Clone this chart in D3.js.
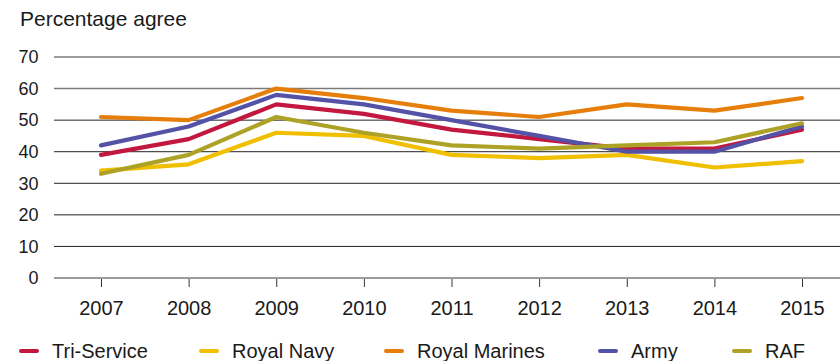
<!DOCTYPE html>
<html>
<head>
<meta charset="utf-8">
<script src="https://cdn.jsdelivr.net/npm/d3@7/dist/d3.min.js"></script>
<style>
  html, body { margin: 0; padding: 0; background: #fff; }
  svg { display: block; }
  text { font-family: "Liberation Sans", Arial, Helvetica, sans-serif; fill: #1a1a1a; }
</style>
</head>
<body>
<svg id="chart" width="840" height="361"></svg>
<script>
// Survey years and y-axis ticks
const years = ["2007", "2008", "2009", "2010", "2011", "2012", "2013", "2014", "2015"];
const yTicks = [0, 10, 20, 30, 40, 50, 60, 70];

// Percentage agreeing, by service
const triService    = [39, 44, 55, 52, 47, 44, 41, 41, 47];
const royalNavy     = [34, 36, 46, 45, 39, 38, 39, 35, 37];
const royalMarines  = [51, 50, 60, 57, 53, 51, 55, 53, 57];
const army          = [42, 48, 58, 55, 50, 45, 40, 40, 48];
const raf           = [33, 39, 51, 46, 42, 41, 42, 43, 49];

const seriesNames = ["Tri-Service", "Royal Navy", "Royal Marines", "Army", "RAF"];
const seriesColors = ["#c2183f", "#f0bf00", "#e67e0c", "#5452a6", "#ada226"];
const seriesValues = [triService, royalNavy, royalMarines, army, raf];

const svg = d3.select("#chart");

const plotLeft = 54, plotRight = 840;
const x = d3.scalePoint().domain(years).range([101, 802]);
const y = d3.scaleLinear().domain([0, 70]).range([278, 57]);

// Title
svg.append("text")
  .attr("x", 20).attr("y", 26)
  .attr("font-size", 21)
  .text("Percentage agree");

// Horizontal gridlines
svg.append("g").selectAll("line")
  .data(yTicks)
  .join("line")
  .attr("x1", plotLeft).attr("x2", plotRight)
  .attr("y1", d => y(d)).attr("y2", d => y(d))
  .attr("stroke", d => (d === 0 || d >= 60) ? "#7a7a7a" : "#222")
  .attr("stroke-width", d => (d === 0 || d >= 60) ? 1.6 : 1);

// Y-axis labels
svg.append("g").selectAll("text")
  .data(yTicks)
  .join("text")
  .attr("x", 38.5)
  .attr("y", d => y(d))
  .attr("dy", "0.35em")
  .attr("text-anchor", "end")
  .attr("font-size", 18)
  .text(d => d);

// X axis ticks and labels
const xAxis = d3.axisBottom(x).tickSize(8).tickPadding(14);
const gx = svg.append("g")
  .attr("transform", `translate(0,${y(0) + 1})`)
  .call(xAxis);
gx.select(".domain").remove();
gx.selectAll(".tick line").attr("stroke", "#333");
gx.selectAll(".tick text")
  .attr("font-size", 20)
  .attr("fill", "#1a1a1a")
  .attr("font-family", "Liberation Sans, Arial, sans-serif");

// Series lines
const line = d3.line()
  .x((d, i) => x(years[i]))
  .y(d => y(d));

svg.append("g").selectAll("path")
  .data(seriesValues)
  .join("path")
  .attr("d", d => line(d))
  .attr("fill", "none")
  .attr("stroke", (d, i) => seriesColors[i])
  .attr("stroke-width", 4.2)
  .attr("stroke-linejoin", "round")
  .attr("stroke-linecap", "round");

// Legend
const legendX = [20, 200, 385, 599, 733];
const legend = svg.append("g").selectAll("g")
  .data(seriesNames)
  .join("g")
  .attr("transform", (d, i) => `translate(${legendX[i]},351)`);

legend.append("line")
  .attr("x1", 1).attr("x2", 17)
  .attr("y1", 0).attr("y2", 0)
  .attr("stroke", (d, i) => seriesColors[i])
  .attr("stroke-width", 4)
  .attr("stroke-linecap", "round");

legend.append("text")
  .attr("x", 32).attr("y", 7)
  .attr("font-size", 20)
  .text(d => d);
</script>
</body>
</html>
